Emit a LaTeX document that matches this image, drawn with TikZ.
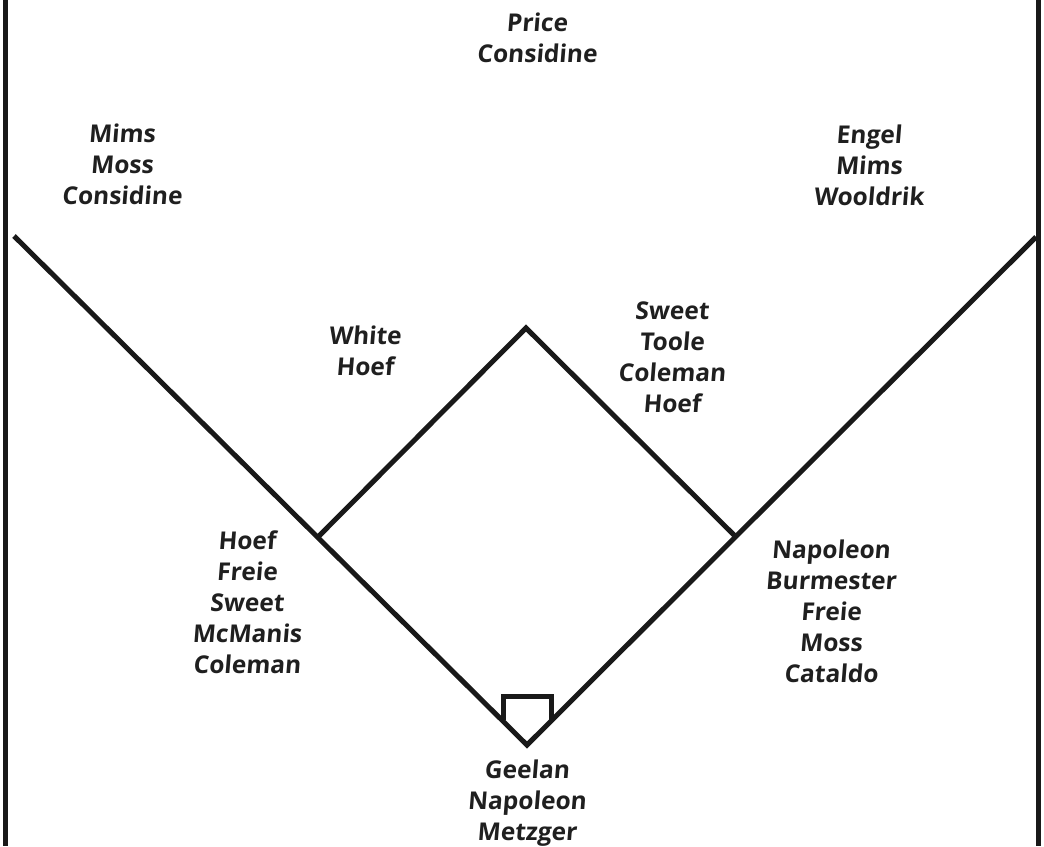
\documentclass[tikz,border=0pt]{standalone}
\usepackage{fontspec}
\setmainfont{Open Sans}[UprightFont=* Bold,FakeSlant=0.08]
\begin{document}
\begin{tikzpicture}[x=1pt,y=-1pt,
  fieldline/.style={line width=5pt,draw=black!90},
  roster/.style={align=center,inner sep=0pt,font=\fontsize{24.5}{31}\selectfont,text=black!88}]
\useasboundingbox (0,0) rectangle (1044,846);
% frame
\coordinate (fl1) at (5.5,0); \coordinate (fl2) at (5.5,846);
\coordinate (fr1) at (1038.5,0); \coordinate (fr2) at (1038.5,846);
\draw[fieldline] (fl1) -- (fl2);
\draw[fieldline] (fr1) -- (fr2);
% bases
\coordinate (home) at (527,745);
\coordinate (first) at (736,537);
\coordinate (second) at (526,328);
\coordinate (third) at (318,537);
\coordinate (lfoul) at (14,236);
\coordinate (rfoul) at (1036,237);
\draw[fieldline] (lfoul) -- (home) -- (rfoul);
\draw[fieldline,line join=miter] (third) -- (second) -- (first);
% home plate
\coordinate (hp1) at (503,720);
\coordinate (hp2) at (503,696);
\coordinate (hp3) at (551,696);
\coordinate (hp4) at (551,720);
\draw[fieldline,line join=miter] (hp1) -- (hp2) -- (hp3) -- (hp4);
% rosters
\node[roster] (cf) at (537,38) {Price\\Considine};
\node[roster] (lf) at (122,164) {Mims\\Moss\\Considine};
\node[roster] (rf) at (869,165) {Engel\\Mims\\Wooldrik};
\node[roster] (ss) at (365,351) {White\\Hoef};
\node[roster] (b2) at (672,357) {Sweet\\Toole\\Coleman\\Hoef};
\node[roster] (b3) at (247,602) {Hoef\\Freie\\Sweet\\McManis\\Coleman};
\node[roster] (b1) at (831,611) {Napoleon\\Burmester\\Freie\\Moss\\Cataldo};
\node[roster] (c) at (527,803) {Geelan\\Napoleon\\Metzger};
\end{tikzpicture}
\end{document}
